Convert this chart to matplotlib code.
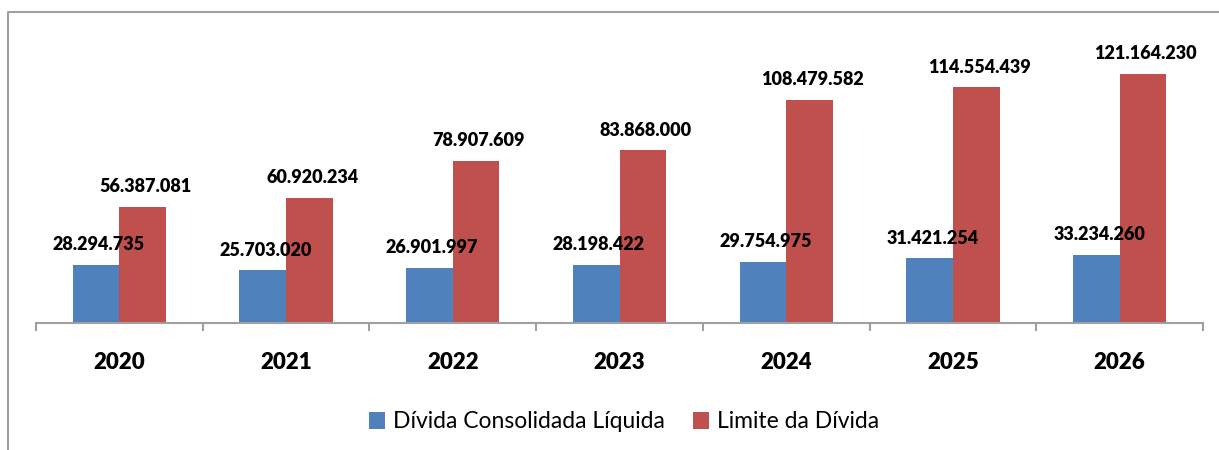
import matplotlib
matplotlib.use("Agg")
import matplotlib.pyplot as plt
from matplotlib.lines import Line2D
import numpy as np

years = ["2020", "2021", "2022", "2023", "2024", "2025", "2026"]
divida = [28294735, 25703020, 26901997, 28198422, 29754975, 31421254, 33234260]
limite = [56387081, 60920234, 78907609, 83868000, 108479582, 114554439, 121164230]
labels_divida = ["28.294.735", "25.703.020", "26.901.997", "28.198.422", "29.754.975", "31.421.254", "33.234.260"]
labels_limite = ["56.387.081", "60.920.234", "78.907.609", "83.868.000", "108.479.582", "114.554.439", "121.164.230"]
series_names = ["Dívida Consolidada Líquida", "Limite da Dívida"]

plt.rcParams['font.family'] = ['Lato', 'DejaVu Sans']

W, H = 1219, 450
fig = plt.figure(figsize=(W/100, H/100), dpi=100)
ax = fig.add_axes([36/W, (H-323)/H, (1203-36)/W, (323-35)/H])

x = np.arange(len(years))
bw = 0.28
c_blue = "#4F81BD"
c_red = "#C0504D"
b1 = ax.bar(x - bw/2, divida, bw, color=c_blue, label=series_names[0])
b2 = ax.bar(x + bw/2, limite, bw, color=c_red, label=series_names[1])

for xi, v, t in zip(x - bw/2, divida, labels_divida):
    ax.annotate(t, (xi, v), xytext=(2, 10.5), textcoords="offset points",
                ha="center", va="baseline", fontsize=13, fontweight="heavy")
for xi, v, t in zip(x + bw/2, limite, labels_limite):
    ax.annotate(t, (xi, v), xytext=(2, 10.5), textcoords="offset points",
                ha="center", va="baseline", fontsize=13, fontweight="heavy")

ax.set_xlim(-0.5, len(years) - 0.5)
ax.set_ylim(0, 140e6)
ax.set_xticks(x)
ax.set_xticklabels(years, fontsize=16, fontweight="heavy")
ax.tick_params(axis="x", which="major", length=0, pad=21)
ax.set_xticks(np.arange(len(years) + 1) - 0.5, minor=True)
ax.tick_params(axis="x", which="minor", length=6, width=1.5, color="#A0A0A0", direction="out")
ax.set_yticks([])
for s in ["top", "right", "left"]:
    ax.spines[s].set_visible(False)
ax.spines["bottom"].set_color("#A0A0A0")
ax.spines["bottom"].set_linewidth(1.5)

fig.add_artist(Line2D([8/W, 8/W, 1.0], [0, (H-12)/H, (H-12)/H], transform=fig.transFigure,
                      color="#A0A0A0", linewidth=1.5))

fig.legend(handles=[b1, b2], labels=series_names, loc="center", bbox_to_anchor=(624/W, (H-422)/H),
           ncol=2, frameon=False, fontsize=16.5, handlelength=0.7, handleheight=0.7,
           handletextpad=0.35, columnspacing=1.2)

fig.savefig("out.png", dpi=100)
